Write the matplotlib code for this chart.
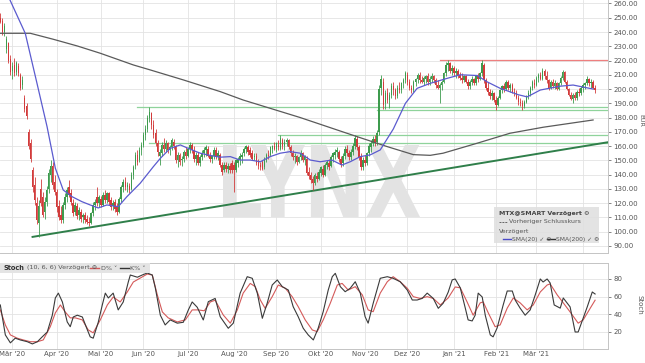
import matplotlib
matplotlib.use("Agg")
import matplotlib.pyplot as plt
import numpy as np
import pandas as pd
from matplotlib.font_manager import FontProperties
from matplotlib.lines import Line2D
from matplotlib.patches import PathPatch, Rectangle
from matplotlib.textpath import TextPath
from matplotlib.transforms import Affine2D

# daily candles in EUR, first bar 21 Feb 2020
opens = [250, 248, 240, 228, 232, 221, 213, 217, 212, 216,
         210, 203, 194, 188, 170, 162, 143, 133, 120, 106,
         130, 124, 114, 121, 130, 140, 146, 135, 128, 118,
         112, 108, 119, 124, 131, 127, 120, 114, 118, 112,
         114, 110, 112, 109, 107, 106, 113, 119, 124, 120,
         123, 119, 126, 122, 127, 122, 118, 121, 117, 114,
         123, 131, 135, 131, 132, 130, 140, 146, 154, 150,
         157, 161, 168, 172, 180, 183, 175, 169, 162, 153,
         155, 161, 158, 162, 157, 159, 163, 160, 150, 154,
         150, 151, 156, 153, 158, 161, 157, 151, 154, 148,
         152, 155, 157, 158, 153, 151, 153, 157, 152, 154,
         147, 143, 147, 144, 146, 148, 147, 143, 148, 150,
         152, 155, 158, 159, 157, 155, 152, 153, 149, 147,
         149, 145, 150, 154, 154, 158, 160, 158, 161, 158,
         164, 160, 163, 164, 159, 155, 152, 153, 149, 152,
         155, 150, 151, 142, 140, 137, 134, 139, 137, 141,
         144, 140, 147, 148, 146, 152, 154, 156, 156, 151,
         148, 153, 158, 155, 152, 156, 160, 165, 159, 152,
         145, 150, 148, 155, 159, 162, 165, 163, 170, 201,
         205, 190, 197, 192, 196, 202, 199, 195, 201, 199,
         204, 206, 210, 205, 201, 199, 205, 207, 210, 206,
         205, 207, 209, 205, 207, 209, 206, 203, 201, 203,
         205, 211, 217, 218, 213, 215, 211, 213, 210, 208,
         206, 209, 205, 202, 205, 207, 204, 209, 207, 211,
         217, 206, 201, 198, 195, 197, 192, 189, 194, 199,
         202, 200, 205, 201, 203, 198, 197, 194, 191, 190,
         188, 191, 195, 197, 201, 204, 203, 208, 210, 207,
         213, 209, 206, 201, 205, 202, 204, 200, 204, 208,
         212, 205, 200, 196, 193, 196, 194, 198, 197, 201,
         203, 204, 207, 204, 205, 201]
highs = [253, 250, 246, 237, 233, 224, 219, 222, 220, 218,
         211, 209, 196, 190, 172, 165, 145, 138, 124, 122,
         137, 128, 124, 132, 144, 150, 149, 140, 130, 122,
         118, 121, 127, 131, 136, 130, 123, 121, 120, 117,
         116, 113, 114, 112, 110, 114, 121, 123, 131, 126,
         125, 128, 129, 128, 128, 124, 122, 123, 120, 124,
         133, 137, 138, 135, 134, 142, 147, 156, 157, 159,
         163, 170, 175, 182, 187.5, 184, 178, 172, 164, 158,
         163, 166, 164, 163, 161, 166, 165, 161, 156, 155,
         153, 157, 159, 159, 163, 162, 160, 156, 156, 154,
         157, 159, 161, 160, 156, 154, 159, 159, 157, 155,
         149, 149, 149, 148, 148, 150, 149, 151, 152, 155,
         156, 159, 161, 161, 159, 157, 155, 155, 151, 149,
         150, 152, 155, 157, 160, 161, 163, 163, 164, 168,
         166, 165, 166, 165, 161, 157, 155, 154, 153, 157,
         156, 154, 153, 145, 142, 139, 141, 142, 144, 146,
         147, 148, 150, 151, 154, 156, 158, 159, 157, 153,
         155, 160, 161, 157, 158, 162, 168, 167, 161, 155,
         152, 154, 156, 162, 164, 167, 168, 171, 203, 210,
         208, 199, 201, 198, 204, 205, 201, 203, 205, 205,
         208, 213, 212, 207, 203, 206, 208, 211, 212, 209,
         209, 210, 211, 209, 211, 210, 208, 206, 204, 206,
         212, 219, 220.5, 219, 217, 216, 215, 214, 212, 211,
         210, 210, 207, 206, 209, 208, 210, 211, 212, 220.5,
         218, 208, 205, 200, 199, 198, 195, 195, 200, 203,
         204, 206, 206, 204, 204, 201, 199, 196, 194, 192,
         192, 196, 199, 202, 206, 207, 209, 211, 212, 215,
         214, 213, 207, 206, 207, 206, 205, 205, 209, 213.5,
         213, 206, 201, 198, 197, 198, 199, 201, 202, 204,
         205, 209, 208, 207, 206, 203]
lows = [246, 238, 237, 225, 218, 210, 207, 209, 210, 209,
        199, 200, 184, 179, 158, 149, 128, 119, 105, 96.5,
        118, 110, 109, 118, 127, 135, 130, 126, 114, 108,
        106, 106, 116, 121, 124, 119, 111, 112, 109, 108,
        107, 106, 106, 105, 104, 105, 111, 115, 118, 117,
        117, 118, 120, 120, 119, 115, 115, 114, 112, 113,
        121, 128, 129, 128, 127, 129, 137, 144, 147, 149,
        154, 159, 164, 170, 177, 172, 166, 160, 153, 147,
        153, 156, 156, 155, 154, 157, 158, 148, 145, 147,
        146, 149, 151, 152, 155, 155, 149, 147, 147, 146,
        150, 152, 153, 152, 149, 148, 151, 151, 150, 145,
        140, 142, 142, 141, 141, 141, 128, 142, 145, 147,
        148, 153, 155, 154, 152, 150, 150, 147, 144, 143,
        143, 144, 149, 151, 153, 155, 157, 156, 157, 157,
        158, 157, 160, 158, 153, 150, 148, 147, 148, 150,
        149, 147, 140, 137, 134, 129, 133, 135, 136, 139,
        138, 139, 144, 143, 145, 149, 151, 152, 149, 145,
        146, 151, 153, 150, 150, 154, 158, 157, 150, 143,
        143, 146, 147, 153, 156, 160, 160, 161, 168, 196,
        186, 186, 190, 187, 194, 196, 193, 194, 197, 197,
        201, 204, 203, 199, 197, 198, 202, 204, 204, 204,
        203, 204, 203, 203, 205, 204, 201, 200, 190, 199,
        204, 209, 213, 211, 210, 209, 208, 208, 206, 204,
        205, 204, 200, 200, 203, 203, 203, 205, 206, 209,
        204, 199, 196, 193, 192, 191, 185.5, 188, 193, 197,
        198, 199, 199, 198, 197, 195, 193, 189, 188, 185.5,
        187, 190, 193, 195, 199, 201, 202, 205, 206, 206,
        207, 204, 199, 200, 201, 200, 199, 199, 203, 206,
        204, 199, 195, 192, 190, 192, 192, 195, 196, 198,
        200, 203, 202, 201, 200, 197]
closes = [247, 240, 244, 235, 220, 212, 216, 211, 218, 211,
          201, 206, 186, 181, 160, 151, 131, 122, 108, 118,
          120, 112, 121, 129, 141, 146, 133, 128, 117, 110,
          108, 119, 124, 129, 126, 121, 113, 119, 111, 115,
          109, 112, 108, 107, 106, 113, 119, 121, 120, 124,
          119, 126, 122, 127, 121, 117, 120, 116, 114, 123,
          131, 135, 131, 133, 129, 140, 145, 154, 149, 157,
          161, 168, 172, 180, 184, 175, 168, 162, 156, 156,
          161, 158, 162, 157, 159, 164, 160, 150, 154, 149,
          151, 156, 153, 158, 161, 157, 151, 154, 148, 152,
          155, 157, 159, 153, 151, 153, 157, 152, 155, 147,
          142, 147, 144, 146, 143, 143, 143, 150, 151, 153,
          154, 158, 160, 156, 154, 151, 153, 148, 146, 145,
          144, 151, 154, 153, 159, 160, 158, 162, 159, 166,
          160, 163, 164, 159, 155, 152, 153, 149, 152, 155,
          150, 153, 141, 139, 136, 134, 140, 137, 142, 145,
          140, 147, 149, 145, 152, 155, 156, 157, 151, 147,
          153, 158, 155, 152, 156, 160, 166, 159, 152, 145,
          150, 148, 155, 160, 162, 165, 163, 169, 200, 207,
          189, 197, 192, 196, 202, 199, 195, 201, 199, 204,
          206, 211, 205, 201, 199, 205, 207, 210, 206, 205,
          208, 209, 205, 207, 209, 206, 203, 201, 203, 205,
          211, 217, 218, 213, 215, 211, 213, 210, 208, 206,
          209, 205, 202, 205, 207, 204, 209, 207, 211, 218,
          206, 201, 198, 195, 197, 192, 189, 194, 199, 202,
          200, 205, 201, 203, 198, 197, 194, 191, 190, 188,
          191, 195, 197, 201, 205, 203, 208, 210, 207, 213,
          209, 206, 201, 205, 202, 204, 200, 204, 208, 212,
          205, 200, 196, 193, 196, 194, 198, 197, 201, 203,
          204, 207, 204, 205, 201, 199]

# moving averages (bar index, value)
sma20_x = [3, 12.4, 18.2, 23.2, 27.3, 31.2, 35.6, 40.5, 44.6, 48.6, 52.9, 58.5,
           62.8, 69.4, 75.9, 79.4, 84.3, 89.3, 94.2, 99.2, 104.2, 109.1, 114.1,
           119, 124, 129, 133.9, 138.9, 143.8, 148.8, 153.8, 158.7, 164.5, 169.5,
           173.6, 178.6, 183.5, 188.5, 195, 201, 206.8, 213.3, 221.7, 228.2,
           236.6, 241.6, 248, 257, 261.4, 267.9, 277.8, 284.2, 294.1]
sma20_y = [268, 239, 204, 173.6, 144.5, 129.2, 124.5, 121, 118.7, 116.6, 118.7,
           117.5, 124.5, 133.9, 145.5, 151.4, 158.4, 160.8, 157.8, 155, 153.4,
           152.2, 152.6, 150.2, 150.2, 149, 152.6, 155, 156.1, 155, 150.2, 149,
           150.2, 146.7, 149, 152.6, 153.8, 157.3, 172, 190, 200.5, 204, 207.5,
           210, 209.5, 205, 200.5, 196, 194.5, 199.3, 202, 202.8, 200]
sma200_x = [0, 14.9, 26.3, 38.2, 49.6, 66, 74.4, 90.8, 109.1, 120.5, 148.8,
            175.1, 192, 204.9, 213.3, 219.7, 236.6, 252.9, 269.3, 294.1]
sma200_y = [239.1, 239.1, 234.9, 230.2, 225.1, 216.9, 213.4, 206.4, 198.2,
            192.3, 180, 167.5, 159.6, 154, 153.5, 155, 162, 169, 173.2, 178.3]

# drawn support / resistance lines: (start bar, price)
level_start = [68, 187, 138, 74]
level_price = [187.3, 185.0, 168.0, 162.3]
resist_start = 218
resist_price = 220.6
trend_x = [16, 301.5]
trend_y = [96.3, 162.7]

# stochastic (10, 6, 6)
k_x = [0, 2.5, 5, 7.4, 9.9, 13.4, 15.9, 18.4, 20.8, 23.3, 25.8, 27.3, 28.8, 30.8,
       33.2, 34.7, 36.2, 38.2, 40.7, 43.2, 44.6, 46.1, 48.6, 50.6, 52.1, 53.6,
       56, 58.5, 61, 63.5, 64.5, 68, 70.4, 72.9, 75.4, 76.9, 79.4, 81.8, 84.3,
       87.8, 90.8, 93.3, 95.2, 97.7, 100.7, 103.2, 106.6, 109.1, 113.1, 115.6,
       119, 122.5, 125, 127.5, 130, 132.4, 134.9, 137.4, 139.9, 142.9, 145.3,
       147.8, 150.3, 152.8, 155.3, 157.7, 160.2, 162.7, 164.7, 166.2, 168.7,
       171.1, 173.6, 176.1, 178.6, 181, 182.5, 185, 188.5, 192, 194.9, 198.4,
       201.9, 204.4, 206.8, 209.3, 211.8, 214.8, 217.3, 219.7, 222.2,
       224.2, 225.7, 228.2, 230.7, 232.1,
       234.1, 235.6, 237.1, 239.1, 240.6, 243.1, 244.5, 246.5, 249.5, 251.5,
       254, 255.5, 257.9, 260.4, 262.9, 265.4, 267.9, 269.3, 271.3, 272.8,
       274.8, 277.8, 279.3, 282.7, 285.2, 286.7, 291.2, 293.7, 295.1]
k_y = [50.6, 16.7, 7.7, 13, 11, 9, 6.5, 9, 14.5, 20, 39, 58.5, 64, 54,
       31.4, 26, 37, 39, 37, 22.4, 14.5, 13, 31, 50.6, 64, 58.5,
       64, 45, 54, 76.6, 84.5, 82, 84.5, 86.8, 84.5, 70, 39, 28, 33.7,
       30, 31, 45, 54, 48, 33.6, 54.3, 58, 37.3, 24.2, 30,
       64, 82.6, 80.8, 64, 35.5, 52.5, 73.2, 78.9, 71.3, 67.5, 48.7,
       37.3, 24.2, 16.6, 11, 24.2, 43, 67.5, 82.6, 86.4, 71.3,
       65.6, 69.5, 76.9, 64, 37.3, 30, 52.5, 80.8, 82.6, 80.8, 76.9,
       67.5, 56.2, 56.2, 58, 64, 58, 46.8, 52.5, 65,
       79, 80, 70, 47, 33.7,
       32.5, 39, 64, 59.6, 39, 16.7, 14.5, 24.6, 50.6, 66.4,
       66.4, 56, 47, 39, 45, 62, 80, 76.6, 80, 75.5,
       50.6, 47, 58.5, 48.4, 20, 20, 48.4, 65.3, 63]
d_x = [0, 2.5, 5, 8.4, 11.4, 14.9, 18.4, 21.3, 24.8, 27.3, 29.8, 32.2, 34.7,
       37.2, 40.7, 43.6, 46.1, 49.6, 53.1, 56, 59.5, 63, 66, 69.4, 72.9, 75.4,
       77.9, 80.4, 83.3, 87.8, 91.8, 95.2, 98.2, 101.2, 104.2, 106.6, 110.6,
       114.1, 117.6, 120.5, 124, 126.5, 129, 131.4, 134.9, 137.9, 141.4, 144.8,
       147.8, 151.3, 154.8, 157.2, 160.2, 163.7, 167.2, 169.6, 172.6, 176.1,
       179.6, 182.5, 185, 188.5, 192, 194.9, 198.4, 201.9, 204.9, 208.3, 211.8,
       214.8, 218.3, 222.2, 225.7, 228.2, 231.6, 234.6, 238.1, 239.6,
       242.1, 245.5, 248, 251.5, 254.5, 257.9, 261.4, 264.4, 267.9, 271.3,
       272.8, 276.3, 279.3, 282.7, 286.7, 289.2, 292.7, 295.1]
d_y = [45, 28, 16.7, 13, 11, 9, 9, 11, 26, 41.6, 50.6, 42.7, 36,
       36, 33.7, 22.4, 19, 33.7, 50.6, 59.6, 54, 65.3, 76.6, 81, 85.6, 84.5,
       62, 42.7, 36, 31.4, 33.7, 45, 45, 44, 54, 56, 39.3,
       30, 45, 64, 75, 71.3, 56.2, 46.8, 60, 73.2, 69.5, 60,
       48.7, 33.6, 22.3, 20.4, 33.6, 52.5, 73.2, 75, 67.5, 71.3,
       62, 45, 43, 64, 76.9, 82.6, 76.9, 69.5, 60, 58, 60,
       58, 50.6, 58.5, 71, 70, 54, 39, 53, 54,
       41.6, 26, 28, 47, 58.5, 53, 45, 50.6, 65.3, 73.2,
       74.4, 62, 53, 42.7, 30, 33.7, 47, 56]

month_labels = ["Mär '20", "Apr '20", "Mai '20", "Jun '20", "Jul '20", "Aug '20",
                "Sep '20", "Okt '20", "Nov '20", "Dez '20", "Jan '21", "Feb '21",
                "Mär '21", ""]

GREEN = "#3d9b4d"
RED = "#d23b3b"
GRID = "#e3e3e3"
TXT = "#555555"
W, H = 645, 363

o = np.array(opens)
h = np.array(highs)
l = np.array(lows)
c = np.array(closes)
idx = np.arange(len(c))
dates = pd.bdate_range("2020-02-21", periods=len(c))
months = dates.to_period("M")
month_pos = idx[1:][months[1:] != months[:-1]]
colors = np.where(c >= o, GREEN, RED)


def box(x0, y0, x1, y1):
    return [x0 / W, 1 - y1 / H, (x1 - x0) / W, (y1 - y0) / H]


def ftext(x, y, s, **kw):
    kw.setdefault("ha", "left")
    kw.setdefault("va", "center")
    fig.text(x / W, 1 - y / H, s, **kw)


def fline(x0, x1, y, **kw):
    fig.add_artist(Line2D([x0 / W, x1 / W], [1 - y / H] * 2, **kw))


fig = plt.figure(figsize=(6.45, 3.63), dpi=100)
ax = fig.add_axes(box(0, 0, 608, 253))
ax2 = fig.add_axes(box(0, 263, 608, 349))

for a in (ax, ax2):
    a.set_xlim(-0.15, 301.5)
    a.set_xticks(month_pos)
    a.grid(True, color=GRID, lw=0.6, zorder=0)
    a.set_axisbelow(True)
    a.yaxis.tick_right()
    a.tick_params(axis="y", labelsize=5, colors=TXT, length=2, pad=2, width=0.5)
    for s in a.spines.values():
        s.set_color("#c4c4c4")
        s.set_linewidth(0.7)
    a.spines["left"].set_visible(False)

# main panel
ax.set_ylim(85, 262.45)
ax.set_yticks(np.arange(90, 261, 10))
ax.set_yticklabels([f"{v:.2f}" for v in np.arange(90, 261, 10)])
ax.tick_params(axis="x", length=0, labelbottom=False)
ax.spines["top"].set_visible(False)

# LYNX watermark
tp = TextPath((0, 0), "LYNX", prop=FontProperties(family="DejaVu Sans", weight="bold"))
bb = tp.get_extents()
wx0, wx1, wy0, wy1 = 223 / 608, 420 / 608, (253 - 217) / 253, (253 - 145) / 253
tr = (Affine2D().translate(-bb.x0, -bb.y0)
      .scale((wx1 - wx0) / bb.width, (wy1 - wy0) / bb.height)
      .translate(wx0, wy0) + ax.transAxes)
ax.add_patch(PathPatch(tp, transform=tr, fc="#e3e3e3", ec="none", zorder=1))

for s, p in zip(level_start, level_price):
    ax.plot([s, 301.5], [p, p], color="#8fd39b", lw=0.9, zorder=2)
ax.plot([resist_start, 301.5], [resist_price] * 2, color="#ee7f7f", lw=0.9, zorder=2)
ax.plot(trend_x, trend_y, color="#2f7f4a", lw=1.4, zorder=2)

ax.plot(sma200_x, sma200_y, color="#5a5a5a", lw=0.9, zorder=5)
ax.plot(sma20_x, sma20_y, color="#5b5bcf", lw=0.9, zorder=5)

ax.vlines(idx, l, h, colors=colors, lw=0.6, zorder=3)
ax.bar(idx, np.maximum(np.abs(c - o), 0.5), bottom=np.minimum(o, c),
       width=0.75, color=colors, lw=0, zorder=4)

# stochastic panel
ax2.set_ylim(0.75, 98.1)
ax2.set_yticks([20, 40, 60, 80])
ax2.set_xticklabels(month_labels)
ax2.tick_params(axis="x", labelsize=5, colors=TXT, length=0, pad=1.5)
ax2.plot(d_x, d_y, color="#d45a5a", lw=0.8, zorder=3)
ax2.plot(k_x, k_y, color="#3a3a3a", lw=0.8, zorder=4)

# axis titles
ftext(641, 120, "EUR", rotation=270, fontsize=4.6, color=TXT, ha="center")
ftext(639, 305, "Stoch", rotation=270, fontsize=5, color=TXT, ha="center")

# legend box in main panel
fig.add_artist(Rectangle((494 / W, 1 - 243 / H), 105 / W, 36 / H,
                         transform=fig.transFigure, fc="#e0e0e0", ec="none",
                         alpha=0.9, zorder=5))
ftext(499, 214, "MTX@SMART Verzögert ⚙", fontsize=4.5, weight="bold", color="#444", zorder=6)
fline(499, 507, 222, color="#666", lw=0.7, ls=(0, (2, 1)), zorder=6)
ftext(509, 222, "Vorheriger Schlusskurs", fontsize=4.5, color=TXT, zorder=6)
ftext(499, 231, "Verzögert", fontsize=4.5, color=TXT, zorder=6)
fline(503, 511, 239, color="#4a4ac8", lw=1.0, zorder=6)
ftext(512, 239, "SMA(20) ✓ ⚙", fontsize=4.3, color=TXT, zorder=6)
fline(547, 555, 239, color="#333", lw=1.0, zorder=6)
ftext(556, 239, "SMA(200) ✓ ⚙", fontsize=4.3, color=TXT, zorder=6)

# stoch header
fig.add_artist(Rectangle((0, 1 - 273 / H), 150 / W, 10 / H,
                         transform=fig.transFigure, fc="#e4e4e4", ec="none", zorder=5))
ftext(4, 268, "Stoch", fontsize=4.8, weight="bold", color="#333", zorder=6)
ftext(27, 268, "(10, 6, 6) Verzögert ⚙", fontsize=4.6, color=TXT, zorder=6)
fline(90, 99, 268, color="#d45a5a", lw=1.0, zorder=6)
ftext(101, 268, "D% ˅", fontsize=4.6, color=TXT, zorder=6)
fline(120, 129, 268, color="#333", lw=1.0, zorder=6)
ftext(130, 268, "K% ˅", fontsize=4.6, color=TXT, zorder=6)

fig.savefig("out.png", dpi=100)
